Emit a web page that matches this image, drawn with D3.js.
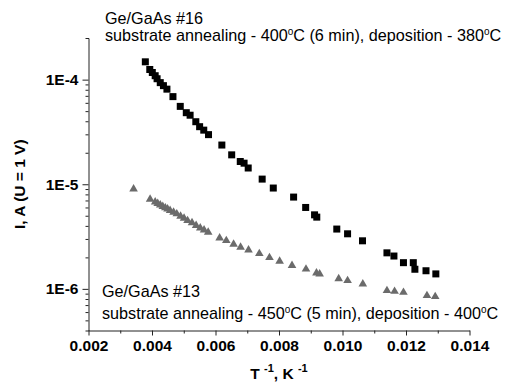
<!DOCTYPE html>
<html>
<head>
<meta charset="utf-8">
<script src="https://cdn.jsdelivr.net/npm/d3@7"></script>
<style>
  body { margin: 0; background: #fff; }
  text { font-family: "Liberation Sans", Arial, sans-serif; }
</style>
</head>
<body>
<div id="chart"></div>
<script>
// sample #16 (black squares)
const x16 = [0.00379, 0.00393, 0.00401, 0.00410, 0.00416, 0.00426, 0.00436, 0.00447,
  0.00466, 0.00489, 0.00508, 0.00520, 0.00538, 0.00550, 0.00563, 0.00578,
  0.00620, 0.00651, 0.00678, 0.00690, 0.00703, 0.00747, 0.00782, 0.00846,
  0.00884, 0.00912, 0.00919, 0.00982, 0.01016, 0.01063, 0.01140, 0.01162,
  0.01192, 0.01223, 0.01228, 0.01263, 0.01294];
const y16 = [1.48e-4, 1.25e-4, 1.17e-4, 1.09e-4, 1.02e-4, 9.36e-5, 8.76e-5, 8.11e-5,
  6.88e-5, 5.55e-5, 4.83e-5, 4.57e-5, 3.96e-5, 3.55e-5, 3.29e-5, 2.98e-5,
  2.37e-5, 1.91e-5, 1.65e-5, 1.59e-5, 1.43e-5, 1.12e-5, 9.20e-6, 7.54e-6,
  6.00e-6, 5.10e-6, 4.85e-6, 3.73e-6, 3.36e-6, 2.88e-6, 2.21e-6, 2.06e-6,
  1.78e-6, 1.78e-6, 1.54e-6, 1.49e-6, 1.39e-6];

// sample #13 (grey triangles)
const x13 = [0.00342, 0.00394, 0.00410, 0.00418, 0.00426, 0.00434, 0.00442, 0.00449,
  0.00457, 0.00468, 0.00478, 0.00490, 0.00501, 0.00512, 0.00526, 0.00539,
  0.00552, 0.00564, 0.00577, 0.00613, 0.00634, 0.00657, 0.00679, 0.00704,
  0.00738, 0.00770, 0.00802, 0.00841, 0.00885, 0.00918, 0.00928, 0.00988,
  0.01016, 0.01064, 0.01140, 0.01164, 0.01192, 0.01266, 0.01292];
const y13 = [9.16e-6, 7.30e-6, 6.88e-6, 6.65e-6, 6.44e-6, 6.23e-6, 6.05e-6, 5.89e-6,
  5.70e-6, 5.49e-6, 5.30e-6, 5.03e-6, 4.81e-6, 4.57e-6, 4.35e-6, 4.10e-6,
  3.88e-6, 3.71e-6, 3.53e-6, 3.11e-6, 2.94e-6, 2.71e-6, 2.54e-6, 2.39e-6,
  2.21e-6, 2.02e-6, 1.87e-6, 1.70e-6, 1.57e-6, 1.44e-6, 1.41e-6, 1.27e-6,
  1.22e-6, 1.13e-6, 9.78e-7, 9.63e-7, 9.42e-7, 8.76e-7, 8.57e-7];

const xMajor = [0.002, 0.004, 0.006, 0.008, 0.010, 0.012, 0.014];
const xMinor = [0.003, 0.005, 0.007, 0.009, 0.011, 0.013];
const yMajor = [1e-4, 1e-5, 1e-6];
const yMajorLabels = ["1E-4", "1E-5", "1E-6"];
const yMinor = [9e-5, 8e-5, 7e-5, 6e-5, 5e-5, 4e-5, 3e-5, 2e-5,
  9e-6, 8e-6, 7e-6, 6e-6, 5e-6, 4e-6, 3e-6, 2e-6,
  9e-7, 8e-7, 7e-7, 6e-7, 5e-7];

const width = 508, height = 385;
const plot = {left: 88.5, right: 469.5, top: 38, bottom: 330.5};

const svg = d3.select("#chart")
    .append("svg")
    .attr("width", width)
    .attr("height", height);

const x = d3.scaleLinear()
    .domain([0.002, 0.014])
    .range([plot.left, plot.right]);

const y = d3.scaleLog()
    .domain([4e-7, 2.5e-4])
    .range([plot.bottom, plot.top]);

// x axis
svg.append("g")
    .attr("transform", `translate(0,${plot.bottom})`)
    .call(d3.axisBottom(x).tickValues(xMinor).tickSize(3).tickSizeOuter(0).tickFormat(""))
    .call(g => g.select(".domain").remove());

svg.append("g")
    .attr("transform", `translate(0,${plot.bottom})`)
    .call(d3.axisBottom(x).tickValues(xMajor).tickSize(5).tickSizeOuter(0).tickPadding(4)
        .tickFormat(d3.format(".3f")))
    .call(g => g.selectAll("text")
        .style("font-size", "15.5px")
        .style("font-weight", "bold")
        .attr("fill", "#000"));

// y axis
svg.append("g")
    .attr("transform", `translate(${plot.left},0)`)
    .call(d3.axisLeft(y).tickValues(yMinor).tickSize(3).tickSizeOuter(0).tickFormat(""))
    .call(g => g.select(".domain").remove());

svg.append("g")
    .attr("transform", `translate(${plot.left},0)`)
    .call(d3.axisLeft(y).tickValues(yMajor).tickSize(6).tickSizeOuter(3).tickPadding(4)
        .tickFormat((d, i) => yMajorLabels[i]))
    .call(g => g.selectAll("text")
        .style("font-size", "15.5px")
        .style("font-weight", "bold")
        .attr("fill", "#000"));

svg.selectAll(".domain, .tick line").attr("stroke", "#222");

// points
svg.append("g")
    .selectAll("path")
    .data(x13.map((d, i) => [d, y13[i]]))
    .join("path")
    .attr("transform", d => `translate(${x(d[0])},${y(d[1])})`)
    .attr("d", "M0,-4.2L4.3,3.2L-4.3,3.2Z")
    .attr("fill", "#6b6b6b");

svg.append("g")
    .selectAll("rect")
    .data(x16.map((d, i) => [d, y16[i]]))
    .join("rect")
    .attr("x", d => x(d[0]) - 3.5)
    .attr("y", d => y(d[1]) - 3.5)
    .attr("width", 7)
    .attr("height", 7)
    .attr("fill", "#000");

// annotations; {deg: true} = superscript "o"
function note(xp, yp, parts) {
    const t = svg.append("text")
        .attr("x", xp)
        .attr("y", yp)
        .style("font-size", "16.2px")
        .attr("fill", "#000");
    let shift = 0;
    parts.forEach(p => {
        if (typeof p === "string") {
            t.append("tspan").attr("dy", shift).text(p);
            shift = 0;
        } else {
            t.append("tspan").attr("dy", -6).style("font-size", "10px").text("o");
            shift = 6;
        }
    });
    return t;
}

note(105, 24, ["Ge/GaAs #16"]);
note(105, 41, ["substrate annealing - 400", {deg: true}, "C (6 min), deposition - 380", {deg: true}, "C"]);
note(102, 297, ["Ge/GaAs #13"]);
note(102, 319, ["substrate annealing - 450", {deg: true}, "C (5 min), deposition - 400", {deg: true}, "C"]);

// axis titles
const xt = svg.append("text")
    .attr("x", (plot.left + plot.right) / 2)
    .attr("y", 379)
    .attr("text-anchor", "middle")
    .style("font-size", "15.5px")
    .style("font-weight", "bold");
xt.append("tspan").text("T ");
xt.append("tspan").attr("dy", -7).style("font-size", "11px").text("-1");
xt.append("tspan").attr("dy", 7).text(", K ");
xt.append("tspan").attr("dy", -7).style("font-size", "11px").text("-1");

svg.append("text")
    .attr("transform", `translate(25,${(plot.top + plot.bottom) / 2}) rotate(-90)`)
    .attr("text-anchor", "middle")
    .style("font-size", "15.5px")
    .style("font-weight", "bold")
    .text("I, A (U = 1 V)");
</script>
</body>
</html>
